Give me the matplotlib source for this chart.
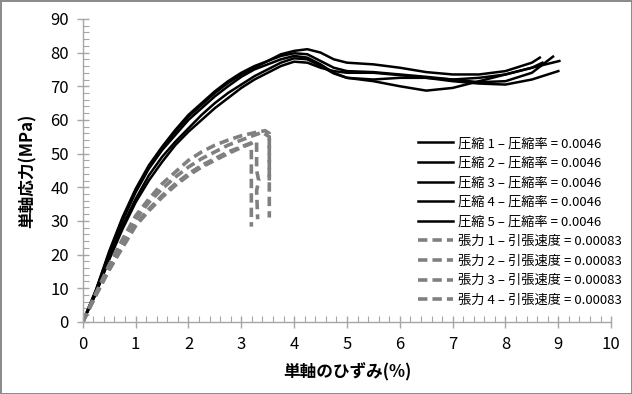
import numpy as np
import matplotlib
matplotlib.use("Agg")
import matplotlib.pyplot as plt
from matplotlib.ticker import MultipleLocator

plt.rcParams['font.family'] = ['Noto Sans CJK JP', 'DejaVu Sans']

# compression tests: common strain grid + tail point per curve
strain_c = [0, 0.25, 0.5, 0.75, 1, 1.25, 1.5, 1.75, 2, 2.25, 2.5, 2.75, 3, 3.25,
            3.5, 3.75, 4, 4.25, 4.5, 4.75, 5, 5.5, 6, 6.5, 7, 7.5, 8, 8.5]
comp1 = [0, 9.5, 20.5, 30.5, 39, 46, 51.5, 56.5, 61, 64.5, 68, 71, 73.5, 75.5,
         77.5, 79.5, 80.5, 81, 80, 78, 77, 76.5, 75.5, 74.2, 73.5, 73.5, 74.5, 77]
comp2 = [0, 9.5, 21, 31, 39.5, 46.5, 52, 57, 61.5, 65, 68.5, 71.5, 74, 76,
         77.5, 79, 79.8, 79.5, 77.5, 75.5, 74.5, 74.2, 73.5, 72.8, 72, 71.2, 71.5, 74]
comp3 = [0, 9, 20, 30, 38.5, 45.5, 51, 55.5, 60, 63.5, 67, 70, 72.8, 75,
         76.5, 78, 79, 78.5, 76.5, 74, 72.5, 71.5, 70, 68.7, 69.5, 71.5, 73.5, 75.5]
comp4 = [0, 8.5, 18.5, 27.5, 35.5, 42, 47.5, 52.5, 56.5, 60, 63.5, 66.5, 69.5, 72,
         74, 76, 77.3, 77, 75.5, 74.5, 74, 74, 73.3, 72.5, 71.5, 70.8, 70.5, 72]
comp5 = [0, 8.5, 19, 28.5, 36.5, 43.5, 49, 53.5, 57.5, 61.5, 65, 68, 70.5, 73,
         75, 77, 78.3, 78, 76, 73.8, 72.5, 72, 72.5, 72.5, 72, 72.5, 73.5, 75.5]
comp_end_x = [8.65, 8.9, 9.02, 9.0, 8.7]
comp_end_y = [78.5, 78.8, 77.5, 74.5, 77]

# tension tests: common grid, then the tail (peak + drop) of each curve
strain_t = [0, 0.25, 0.5, 0.75, 1, 1.25, 1.5, 1.75, 2, 2.25, 2.5, 2.75, 3]
tens1 = [0, 8.5, 17, 24.5, 31.5, 36.5, 41, 44.5, 48, 50.5, 52.5, 54, 55.3]
tens2 = [0, 8.5, 16, 23.5, 30.5, 35.5, 39.5, 43, 46, 48.5, 50.5, 52.5, 54]
tens3 = [0, 8, 15.5, 22.5, 29, 33.5, 37.5, 41, 44, 46.5, 48.5, 50.5, 52]
tens4 = [0, 8, 15.5, 22, 28.5, 33, 37, 40.5, 43.5, 46, 48, 50, 51.8]
tail1_x = [3.25, 3.45, 3.53, 3.53]
tail1_y = [56.2, 56.8, 56, 31]
tail2_x = [3.25, 3.4, 3.53, 3.53]
tail2_y = [55.5, 56.3, 55, 42]
tail3_x = [3.19, 3.29, 3.29, 3.33, 3.29, 3.31]
tail3_y = [53.2, 53.3, 45, 42, 39, 30.5]
tail4_x = [3.19, 3.19]
tail4_y = [53, 28.3]

comp_labels = ['圧縮 %d – 圧縮率 = 0.0046' % (k + 1) for k in range(5)]
tens_labels = ['張力 %d – 引張速度 = 0.00083' % (k + 1) for k in range(4)]

fig = plt.figure(figsize=(6.32, 3.94), dpi=100)
fig.patch.set_edgecolor('#8c8c8c')
fig.patch.set_linewidth(2)
ax = fig.add_axes([0.131, 0.183, 0.836, 0.769])

for k, ys in enumerate([comp1, comp2, comp3, comp4, comp5]):
    xs = strain_c + [comp_end_x[k]]
    ax.plot(xs, ys + [comp_end_y[k]], color='black', lw=1.8,
            label=comp_labels[k])

tails = [(tail1_x, tail1_y), (tail2_x, tail2_y), (tail3_x, tail3_y), (tail4_x, tail4_y)]
for k, ys in enumerate([tens1, tens2, tens3, tens4]):
    tx, ty = tails[k]
    ax.plot(strain_t + tx, ys + ty, color='#808080', lw=2.6,
            dashes=(2.6, 1.4), label=tens_labels[k])

ax.set_xlim(0, 10)
ax.set_ylim(0, 90)
ax.xaxis.set_major_locator(MultipleLocator(1))
ax.xaxis.set_minor_locator(MultipleLocator(0.2))
ax.yaxis.set_major_locator(MultipleLocator(10))
ax.yaxis.set_minor_locator(MultipleLocator(2))

for s in ['top', 'right']:
    ax.spines[s].set_visible(False)
for s in ['left', 'bottom']:
    ax.spines[s].set_color('#a6a6a6')
    ax.spines[s].set_linewidth(1)
ax.tick_params(which='major', direction='inout', length=8, width=1,
               color='#a6a6a6', labelsize=12, pad=6)
ax.tick_params(which='minor', direction='in', length=4, width=0.8,
               color='#a6a6a6')

ax.set_xlabel('単軸のひずみ(%)', fontsize=12, fontweight='bold', labelpad=7)
ax.set_ylabel('単軸応力(MPa)', fontsize=12, fontweight='bold', labelpad=10)

fig.legend(loc='upper left', bbox_to_anchor=(0.662, 0.652), frameon=False,
           fontsize=9.5, handlelength=2.6, handletextpad=0.4, labelspacing=0.5,
           borderpad=0, borderaxespad=0)

fig.savefig('out.png', dpi=100)
